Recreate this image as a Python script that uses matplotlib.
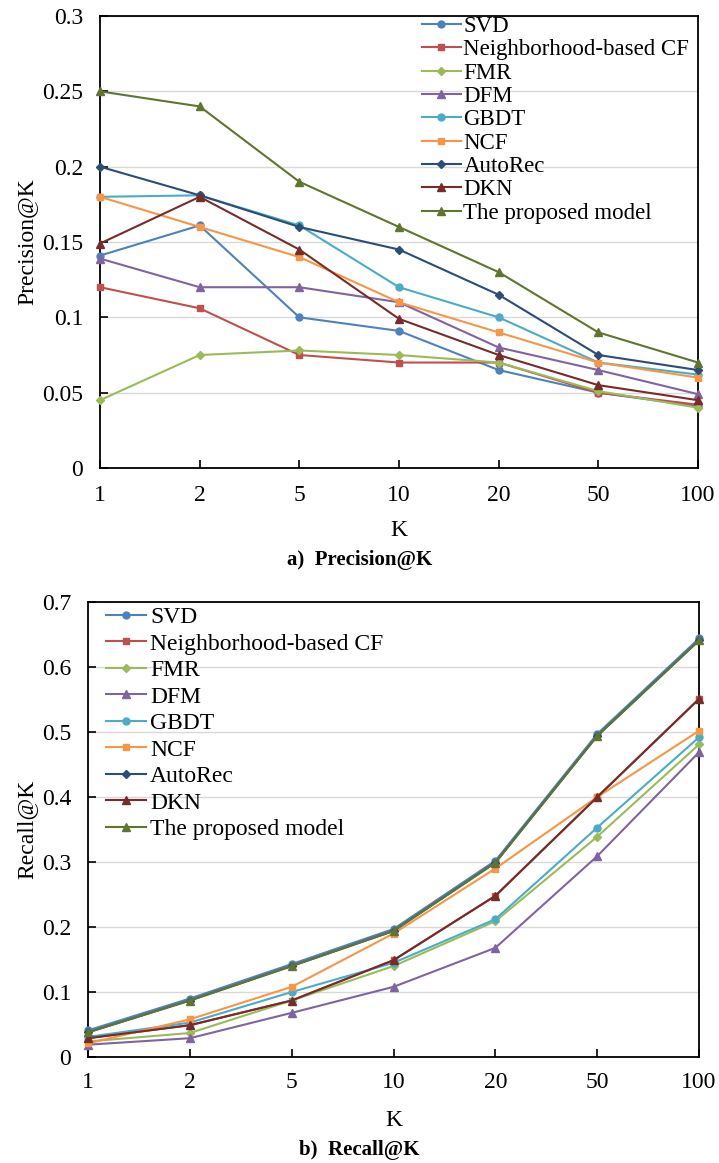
import matplotlib.pyplot as plt
import numpy as np

plt.rcParams['font.family'] = ['Liberation Serif', 'DejaVu Serif']

# K values shown as categories
k_labels = ['1', '2', '5', '10', '20', '50', '100']
models = ['SVD', 'Neighborhood-based CF', 'FMR', 'DFM', 'GBDT', 'NCF',
          'AutoRec', 'DKN', 'The proposed model']

# Precision@K
prec_svd = [0.141, 0.161, 0.100, 0.091, 0.065, 0.050, 0.041]
prec_ncf_nb = [0.120, 0.106, 0.075, 0.070, 0.070, 0.050, 0.042]
prec_fmr = [0.045, 0.075, 0.078, 0.075, 0.070, 0.051, 0.040]
prec_dfm = [0.139, 0.120, 0.120, 0.110, 0.080, 0.065, 0.049]
prec_gbdt = [0.180, 0.181, 0.161, 0.120, 0.100, 0.070, 0.062]
prec_ncf = [0.180, 0.160, 0.140, 0.110, 0.090, 0.070, 0.060]
prec_autorec = [0.200, 0.181, 0.160, 0.145, 0.115, 0.075, 0.065]
prec_dkn = [0.149, 0.180, 0.145, 0.099, 0.075, 0.055, 0.045]
prec_ours = [0.250, 0.240, 0.190, 0.160, 0.130, 0.090, 0.070]

# Recall@K
rec_svd = [0.041, 0.090, 0.143, 0.197, 0.302, 0.497, 0.644]
rec_ncf_nb = [0.029, 0.049, 0.087, 0.149, 0.248, 0.400, 0.551]
rec_fmr = [0.024, 0.037, 0.087, 0.140, 0.209, 0.339, 0.481]
rec_dfm = [0.019, 0.029, 0.068, 0.108, 0.168, 0.309, 0.469]
rec_gbdt = [0.031, 0.053, 0.100, 0.145, 0.212, 0.353, 0.492]
rec_ncf = [0.021, 0.058, 0.108, 0.190, 0.290, 0.400, 0.502]
rec_autorec = [0.038, 0.087, 0.140, 0.194, 0.299, 0.494, 0.641]
rec_dkn = [0.029, 0.049, 0.087, 0.149, 0.248, 0.400, 0.551]
rec_ours = [0.038, 0.087, 0.140, 0.194, 0.299, 0.494, 0.641]

precision = [prec_svd, prec_ncf_nb, prec_fmr, prec_dfm, prec_gbdt, prec_ncf,
             prec_autorec, prec_dkn, prec_ours]
recall = [rec_svd, rec_ncf_nb, rec_fmr, rec_dfm, rec_gbdt, rec_ncf,
          rec_autorec, rec_dkn, rec_ours]

colors = ['#4F81BD', '#C0504D', '#9BBB59', '#8064A2', '#4BACC6', '#F79646',
          '#2C4D75', '#772C2A', '#5F7530']
markers = ['o', 's', 'D', '^', 'o', 's', 'D', '^', '^']
msizes = [5, 4.5, 4, 6, 5, 4.5, 4, 6, 6]

fig = plt.figure(figsize=(7.19, 11.63), dpi=100)
ax1 = fig.add_axes([0.1391, 0.5976, 0.8317, 0.3886])
ax2 = fig.add_axes([0.1224, 0.0911, 0.8498, 0.3912])

x = np.arange(len(k_labels))


def draw(ax, data, ymax, ystep, ylabel, tickpad):
    for name, vals, c, m, ms in zip(models, data, colors, markers, msizes):
        ax.plot(x, vals, color=c, marker=m, markersize=ms, lw=1.5,
                label=name, clip_on=False, zorder=3)
    ax.set_xlim(0, 6)
    ax.set_ylim(0, ymax)
    yt = np.arange(0, ymax + 1e-9, ystep)
    ax.set_yticks(yt)
    ax.set_yticklabels([('%.2f' % v).rstrip('0').rstrip('.') for v in yt])
    ax.set_xticks(x)
    ax.set_xticklabels(k_labels)
    ax.yaxis.grid(True, color='#D9D9D9', lw=1)
    ax.set_axisbelow(True)
    ax.tick_params(axis='both', direction='in', length=6, width=1.2,
                   labelsize=17)
    ax.tick_params(axis='x', pad=tickpad)
    ax.tick_params(axis='y', pad=12)
    for s in ax.spines.values():
        s.set_color('black')
        s.set_linewidth(1.3)
    ax.set_xlabel('K', fontsize=17)
    ax.set_ylabel(ylabel, fontsize=17)


draw(ax1, precision, 0.3, 0.05, 'Precision@K', 12)
draw(ax2, recall, 0.7, 0.1, 'Recall@K', 11)

ax1.yaxis.set_label_coords(-0.105, 0.5)
ax2.yaxis.set_label_coords(-0.082, 0.5)
ax1.xaxis.set_label_coords(0.5, -0.115)
ax2.xaxis.set_label_coords(0.5, -0.116)

ax1.legend(loc='upper left', bbox_to_anchor=(0.538, 1.0), frameon=False,
           fontsize=16.5, borderpad=0, borderaxespad=0, labelspacing=0.1,
           handlelength=1.7, handletextpad=0.12)
ax2.legend(loc='upper left', bbox_to_anchor=(0.03, 0.99), frameon=False,
           fontsize=17, borderpad=0, borderaxespad=0, labelspacing=0.21,
           handlelength=1.7, handletextpad=0.15)

fig.text(0.5, 1 - 560 / 1163, 'a)  Precision@K', ha='center', va='center',
         fontsize=15, fontweight='bold')
fig.text(0.5, 1 - 1150 / 1163, 'b)  Recall@K', ha='center', va='center',
         fontsize=15, fontweight='bold')

fig.savefig('out.png', dpi=100)
